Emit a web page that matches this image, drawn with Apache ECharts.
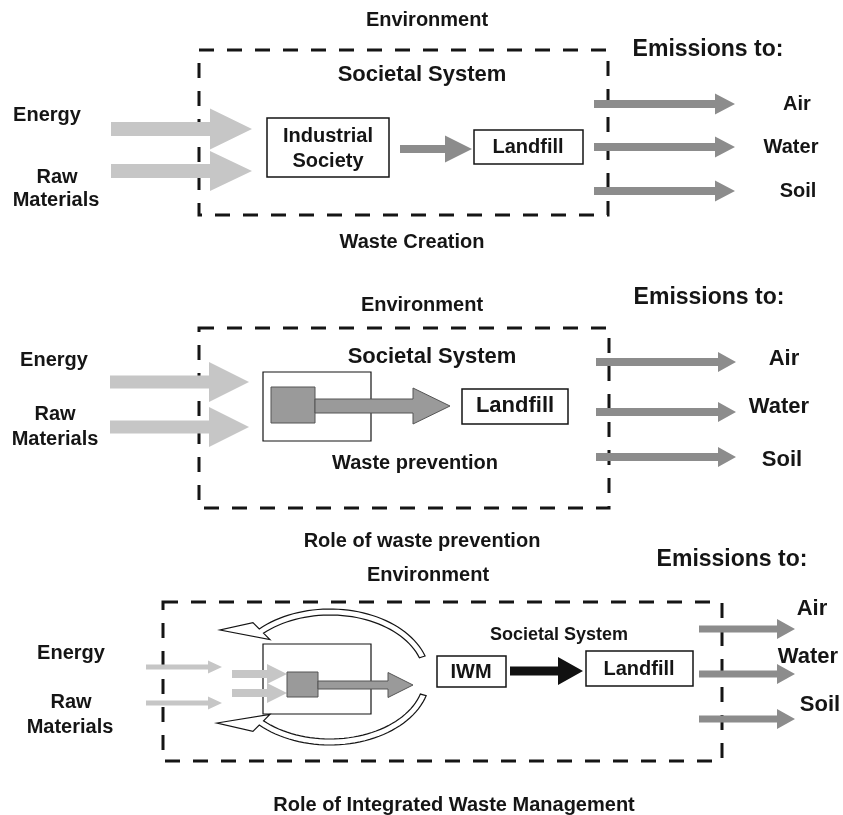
<!DOCTYPE html>
<html>
<head>
<meta charset="utf-8">
<script src="https://cdn.jsdelivr.net/npm/echarts@6/dist/echarts.min.js"></script>
<style>html,body{margin:0;padding:0;background:#fff}#c{width:843px;height:815px}</style>
</head>
<body>
<div id="c"></div>
<script>
// ---- text content ----
const panelCaptions = ['Waste Creation', 'Role of waste prevention', 'Role of Integrated Waste Management'];
const environmentLabel = 'Environment';
const emissionsTitle = 'Emissions to:';
const emissionTargets = ['Air', 'Water', 'Soil'];
const inputLabels = ['Energy', 'Raw', 'Materials'];
const systemLabel = 'Societal System';
const societyLabels = ['Industrial', 'Society'];
const landfillLabel = 'Landfill';
const preventionLabel = 'Waste prevention';
const iwmLabel = 'IWM';

// ---- colours / fonts ----
const INK = '#151515';
const LIGHT = '#c6c6c6';
const MID = '#8c8c8c';
const FILLGREY = '#9a9a9a';
const FONT = '"Liberation Sans", Arial, Helvetica, sans-serif';

// ---- layout (diagram geometry in pixel space of the 843x815 canvas) ----
const els = [];
const T = (t, x, y, s) => els.push({k: 'text', t, x, y, s});
const R = (x0, y0, x1, y1, o) => els.push(Object.assign({k: 'rect', x0, y0, x1, y1}, o || {}));
const D = (x0, y0, x1, y1) => els.push({k: 'dash', x0, y0, x1, y1});
const A = (x0, x1, y, sh, hl, hh, o) => els.push(Object.assign({k: 'arrow', x0, x1, y, sh, hl, hh}, o || {}));
const L = (o) => els.push(Object.assign({k: 'loop'}, o));

// Panel 1 - Waste Creation
T(environmentLabel, 427, 20, 20);
T(emissionsTitle, 708, 50, 23);
D(199, 50, 608, 215);
T(systemLabel, 422, 75, 22);
T(inputLabels[0], 47, 115, 20);
T(inputLabels[1], 57, 177, 20);
T(inputLabels[2], 56, 200, 20);
A(111, 252, 129, 7, 42, 20.5, {fill: LIGHT});
A(111, 252, 171, 7, 42, 20, {fill: LIGHT});
R(267, 118, 389, 177);
T(societyLabels[0], 328, 136, 20);
T(societyLabels[1], 328, 161, 20);
A(400, 472, 149, 4, 27, 13.5, {fill: MID});
R(474, 130, 583, 164);
T(landfillLabel, 528, 147, 20);
[104, 147, 191].forEach(y => A(594, 735, y, 4, 20, 10.5, {fill: MID}));
T(emissionTargets[0], 797, 104, 20);
T(emissionTargets[1], 791, 147, 20);
T(emissionTargets[2], 798, 191, 20);
T(panelCaptions[0], 412, 242, 20);

// Panel 2 - Role of waste prevention
T(environmentLabel, 422, 305, 20);
T(emissionsTitle, 709, 298, 23);
D(199, 328, 609, 508);
T(systemLabel, 432, 357, 22);
T(inputLabels[0], 54, 360, 20);
T(inputLabels[1], 55, 414, 20);
T(inputLabels[2], 55, 439, 20);
A(110, 249, 382, 6.5, 40, 20, {fill: LIGHT});
A(110, 249, 427, 6.5, 40, 20, {fill: LIGHT});
R(263, 372, 371, 441, {lw: 1.2});
R(271, 387, 315, 423, {fill: FILLGREY, stroke: '#555', lw: 1});
A(315, 450, 406, 7, 37, 18, {fill: FILLGREY, stroke: '#555', lw: 1});
R(462, 389, 568, 424);
T(landfillLabel, 515, 406, 22);
T(preventionLabel, 415, 463, 20);
[362, 412, 457].forEach(y => A(596, 736, y, 4, 18, 10, {fill: MID}));
T(emissionTargets[0], 784, 359, 22);
T(emissionTargets[1], 779, 407, 22);
T(emissionTargets[2], 782, 460, 22);
T(panelCaptions[1], 422, 541, 20);

// Panel 3 - Role of Integrated Waste Management
T(emissionsTitle, 732, 560, 23);
T(environmentLabel, 428, 575, 20);
D(163, 602, 722, 761);
T(systemLabel, 559, 635, 18);
T(inputLabels[0], 71, 653, 20);
T(inputLabels[1], 71, 702, 20);
T(inputLabels[2], 70, 727, 20);
A(146, 222, 667, 2.5, 14, 6.5, {fill: LIGHT});
A(146, 222, 703, 2.5, 14, 6.5, {fill: LIGHT});
R(263, 644, 371, 714, {lw: 1.2});
A(232, 287, 674, 4, 20, 10, {fill: LIGHT});
A(232, 287, 693, 4, 20, 10, {fill: LIGHT});
L({cx: 330, cy: 677, rx: 100, ry: 68, a0: 18, a1: 135, tip: [220, 630]});
L({cx: 330, cy: 677, rx: 100, ry: 68, a0: -16, a1: -135, tip: [217, 723]});
R(287, 672, 318, 697, {fill: FILLGREY, stroke: '#555', lw: 1});
A(318, 413, 685, 4, 25, 12.5, {fill: FILLGREY, stroke: '#555', lw: 1});
R(437, 656, 506, 687);
T(iwmLabel, 471, 672, 20);
A(510, 583, 671, 4.5, 25, 14, {fill: '#111'});
R(586, 651, 693, 686);
T(landfillLabel, 639, 669, 20);
[629, 674, 719].forEach(y => A(699, 795, y, 3.5, 18, 10, {fill: MID}));
T(emissionTargets[0], 812, 609, 22);
T(emissionTargets[1], 808, 657, 22);
T(emissionTargets[2], 820, 705, 22);
T(panelCaptions[2], 454, 805, 20);

// ---- rendering ----
const chart = echarts.init(document.getElementById('c'), null, {renderer: 'canvas'});

function renderItem(params, api) {
  const e = els[params.dataIndex];
  const P = (x, y) => api.coord([x, y]);
  if (e.k === 'text') {
    const p = P(e.x, e.y);
    return {type: 'text', style: {x: p[0], y: p[1], text: e.t, fill: INK,
      fontSize: e.s, fontWeight: 'bold', fontFamily: FONT, align: 'center', verticalAlign: 'middle'}};
  }
  if (e.k === 'rect' || e.k === 'dash') {
    const a = P(e.x0, e.y0), b = P(e.x1, e.y1);
    const dash = e.k === 'dash';
    return {type: 'rect', shape: {x: a[0], y: a[1], width: b[0] - a[0], height: b[1] - a[1]},
      style: {fill: dash ? null : (e.fill || '#fff'), stroke: e.stroke || INK,
        lineWidth: dash ? 3 : (e.lw || 1.5), lineDash: dash ? [15, 13] : null}};
  }
  if (e.k === 'arrow') {
    const b = e.x1 - e.hl;
    const pts = [[e.x0, e.y - e.sh], [b, e.y - e.sh], [b, e.y - e.hh], [e.x1, e.y],
      [b, e.y + e.hh], [b, e.y + e.sh], [e.x0, e.y + e.sh]].map(q => P(q[0], q[1]));
    return {type: 'polygon', shape: {points: pts},
      style: {fill: e.fill, stroke: e.stroke || null, lineWidth: e.lw || 0}};
  }
  if (e.k === 'loop') {
    const th = 6, n = 40;
    const pt = (deg, r) => {
      const t = deg * Math.PI / 180;
      return [e.cx + (e.rx + r) * Math.cos(t), e.cy - (e.ry + r) * Math.sin(t)];
    };
    const outer = [], inner = [];
    for (let i = 0; i <= n; i++) {
      const d = e.a0 + (e.a1 - e.a0) * i / n;
      outer.push(pt(d, 0));
      inner.push(pt(d, -th));
    }
    const oe = pt(e.a1, 9), ie = pt(e.a1, -th - 9);
    const pts = outer.concat([oe, e.tip, ie]).concat(inner.reverse());
    return {type: 'polygon', shape: {points: pts.map(q => P(q[0], q[1]))},
      style: {fill: '#fff', stroke: INK, lineWidth: 1.2}};
  }
  return null;
}

chart.setOption({
  animation: false,
  backgroundColor: '#fff',
  grid: {left: 0, right: 0, top: 0, bottom: 0},
  xAxis: {type: 'value', min: 0, max: 843, show: false},
  yAxis: {type: 'value', min: 0, max: 815, inverse: true, show: false},
  series: [{
    type: 'custom',
    silent: true,
    clip: false,
    renderItem: renderItem,
    data: els.map((e, i) => [i])
  }]
});
</script>
</body>
</html>
